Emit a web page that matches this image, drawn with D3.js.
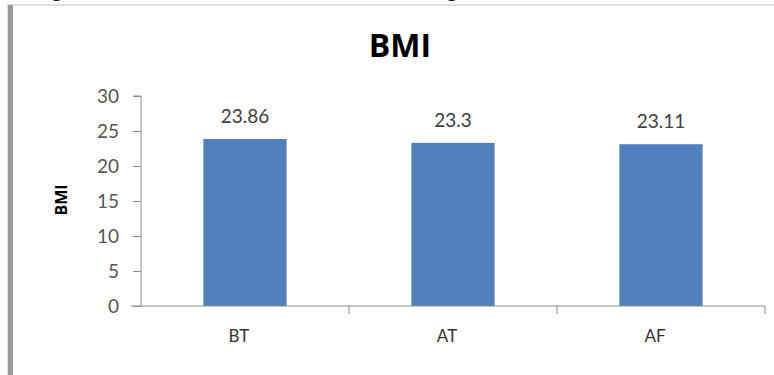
<!DOCTYPE html>
<html>
<head>
<meta charset="utf-8">
<script src="https://cdn.jsdelivr.net/npm/d3@7/dist/d3.min.js"></script>
<style>
  html, body { margin: 0; padding: 0; background: #fff; }
  svg { display: block; }
  text { font-family: Lato, "Open Sans", "DejaVu Sans", sans-serif; }
</style>
</head>
<body>
<svg id="chart" width="774" height="375"></svg>
<script>
// BMI by phase
const categories = ["BT", "AT", "AF"];
const bmiValues = [23.86, 23.3, 23.11];
const yTicks = [0, 5, 10, 15, 20, 25, 30];
const chartTitle = "BMI";
const yAxisTitle = "BMI";

const svg = d3.select("#chart");
const W = 774, H = 375;
const plot = { left: 141, right: 765, top: 96, bottom: 306 };

// frame around the chart area
svg.append("rect")
  .attr("x", 8).attr("y", 5).attr("width", W).attr("height", H)
  .attr("fill", "#fff").attr("stroke", "#d6d6d6").attr("stroke-width", 1.5);
svg.append("rect")
  .attr("x", 8).attr("y", 5).attr("width", 5).attr("height", H)
  .attr("fill", "#9a9a9a");

// caption line above the frame (only its descenders fall inside the view)
svg.append("g").selectAll("text")
  .data([{ x: 57, s: "g" }, { x: 452, s: "g" }])
  .join("text")
  .attr("x", d => d.x).attr("y", -4)
  .attr("text-anchor", "middle")
  .style("font-family", "'Liberation Serif', serif")
  .style("font-weight", "bold")
  .style("font-size", "20px")
  .attr("fill", "#111")
  .text(d => d.s);

const x = d3.scaleBand().domain(categories).range([plot.left, plot.right]).padding(0);
const y = d3.scaleLinear().domain([0, 30]).range([plot.bottom, plot.top]);

// bars
const barFrac = 0.4;
svg.append("g").selectAll("rect")
  .data(categories.map((c, i) => ({ c, v: bmiValues[i] })))
  .join("rect")
  .attr("x", d => x(d.c) + x.bandwidth() * (1 - barFrac) / 2)
  .attr("width", x.bandwidth() * barFrac)
  .attr("y", d => y(d.v))
  .attr("height", d => y(0) - y(d.v))
  .attr("fill", "#4f7fbe");

// y axis
const yAxis = svg.append("g")
  .attr("transform", `translate(${plot.left},0)`)
  .call(d3.axisLeft(y).tickValues(yTicks).tickSize(8).tickPadding(14).tickFormat(d3.format("d")));
yAxis.select(".domain").attr("stroke", "#8c8c8c").attr("d", `M-8,${plot.top}H0V${plot.bottom}`);
yAxis.selectAll(".tick line").attr("stroke", "#8c8c8c");
yAxis.selectAll(".tick text")
  .attr("fill", "#555").style("font-size", "19px")
  .style("font-family", "Lato, sans-serif");

// x axis
const xAxis = svg.append("g")
  .attr("transform", `translate(0,${plot.bottom})`)
  .call(d3.axisBottom(x).tickSize(0).tickPadding(24));
xAxis.select(".domain").attr("stroke", "#8c8c8c").attr("d", `M${plot.left - 10},0H${plot.right}`);
xAxis.selectAll(".tick text")
  .attr("fill", "#333").style("font-size", "17px")
  .attr("dx", -6);
// category boundary ticks
svg.append("g").selectAll("line")
  .data(categories.slice(1).map(c => x(c)).concat([plot.right]))
  .join("line")
  .attr("x1", d => d).attr("x2", d => d)
  .attr("y1", plot.bottom).attr("y2", plot.bottom + 8)
  .attr("stroke", "#8c8c8c");

// value labels
svg.append("g").selectAll("text")
  .data(categories.map((c, i) => ({ c, v: bmiValues[i] })))
  .join("text")
  .attr("x", d => x(d.c) + x.bandwidth() / 2)
  .attr("y", d => y(d.v) - 16)
  .attr("text-anchor", "middle")
  .attr("fill", "#404040")
  .style("font-size", "19px")
  .text(d => String(d.v));

// chart title
svg.append("text")
  .attr("x", 400).attr("y", 57)
  .attr("text-anchor", "middle")
  .style("font-family", "'Open Sans', sans-serif")
  .style("font-weight", "bold")
  .style("font-size", "32px")
  .attr("fill", "#000")
  .text(chartTitle);

// y axis title
svg.append("text")
  .attr("transform", "translate(67,200) rotate(-90)")
  .attr("text-anchor", "middle")
  .style("font-family", "'Open Sans', sans-serif")
  .style("font-weight", "bold")
  .style("font-size", "16px")
  .attr("fill", "#000")
  .text(yAxisTitle);
</script>
</body>
</html>
